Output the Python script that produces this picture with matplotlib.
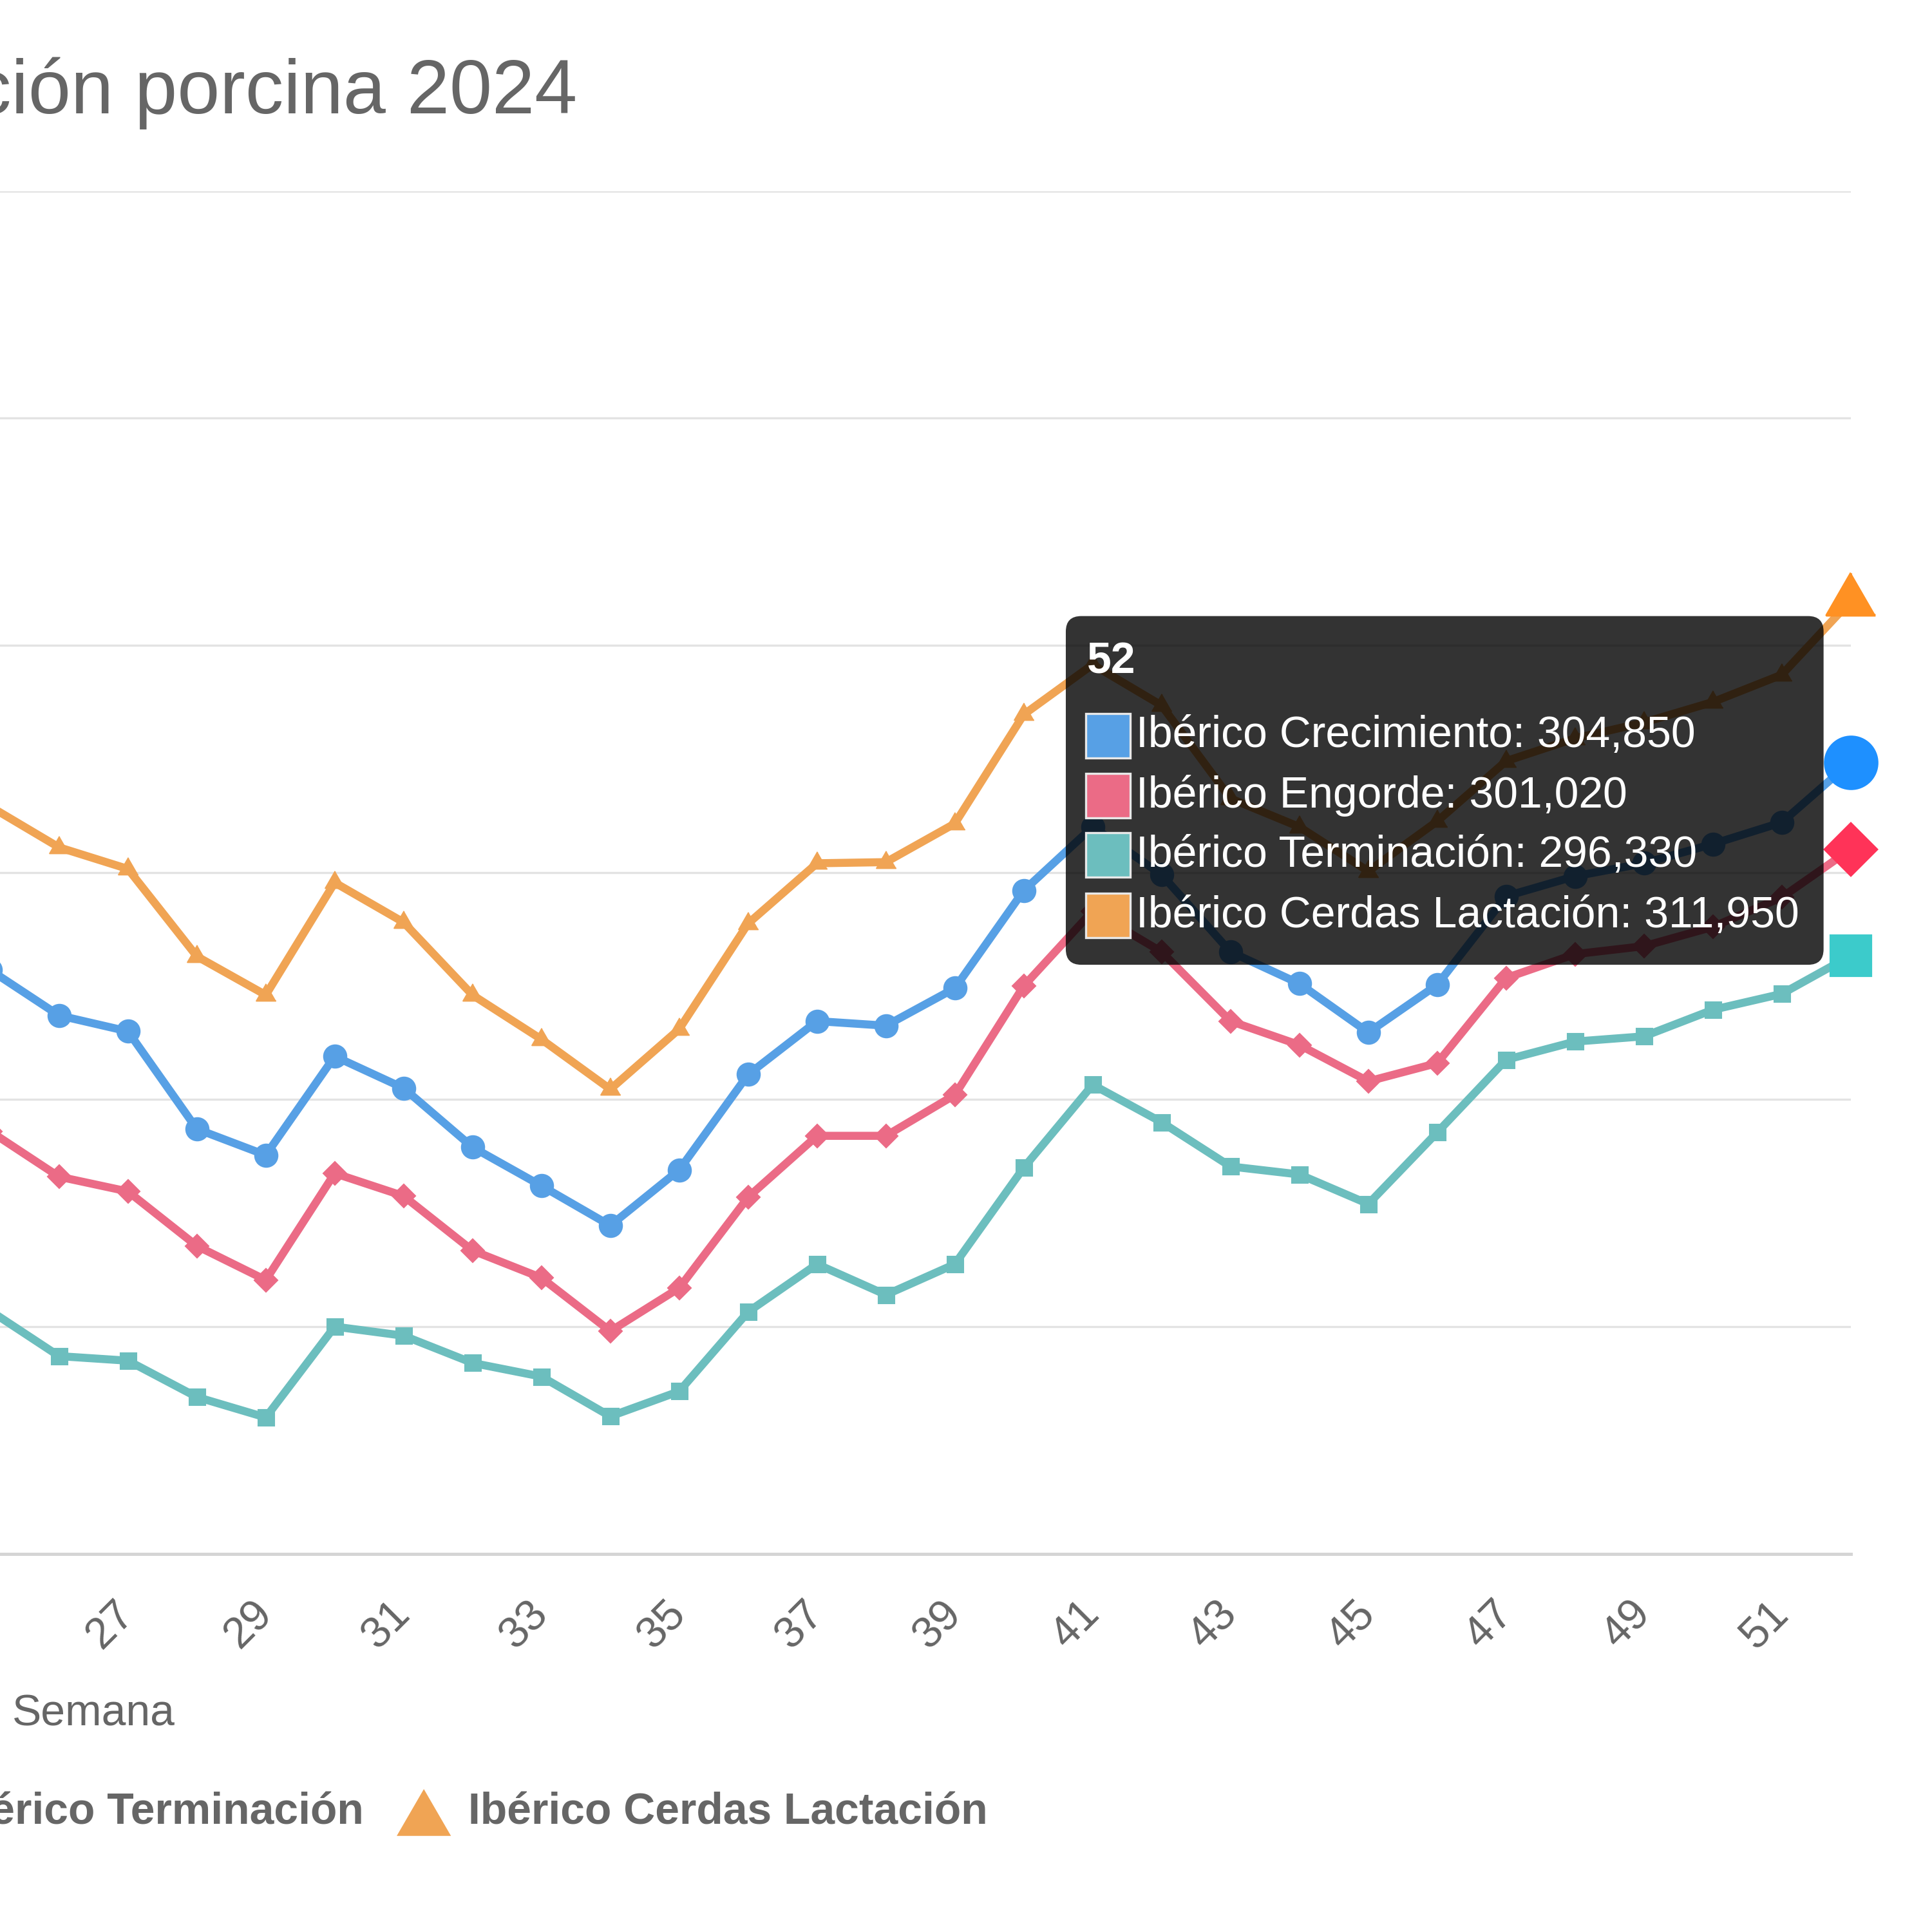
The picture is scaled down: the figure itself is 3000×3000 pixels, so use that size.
import matplotlib
matplotlib.use('Agg')
from matplotlib import pyplot as plt
from matplotlib.patches import FancyBboxPatch, Rectangle, Polygon

plt.rcParams['font.family'] = ['Liberation Sans', 'DejaVu Sans']

# weekly values (week 25 is only partly in view on the left)
weeks = list(range(25, 53))
crecimiento = [295700, 293700, 293000, 288700, 287550, 291900, 290500, 287900, 286200, 284450,
               286900, 291100, 293450, 293250, 294900, 299200, 302000, 299900, 296500, 295100,
               292950, 295050, 298950, 299830, 300400, 301250, 302200, 304850]
engorde = [288600, 286600, 285950, 283550, 282050, 286750, 285750, 283350, 282150, 279800,
           281700, 285700, 288400, 288400, 290200, 295000, 298300, 296500, 293450, 292400,
           290800, 291600, 295350, 296400, 296750, 297600, 298900, 301020]
terminacion = [280700, 278700, 278500, 276900, 276000, 280000, 279600, 278400, 277800, 276050,
               277150, 280650, 282750, 281400, 282750, 287000, 290650, 289000, 287050, 286700,
               285400, 288550, 291750, 292550, 292780, 293950, 294650, 296330]
lactacion = [302900, 301100, 300150, 296300, 294600, 299550, 297800, 294600, 292650, 290450,
             293100, 297750, 300400, 300450, 302150, 306950, 309150, 307350, 303250, 302000,
             300050, 302250, 304900, 305900, 306600, 307500, 308700, 311950]

series_names = ['Ibérico Crecimiento', 'Ibérico Engorde', 'Ibérico Terminación',
                'Ibérico Cerdas Lactación']
tick_weeks = list(range(27, 52, 2))
y_grid = list(range(270000, 330001, 10000))

# styles
line_colors = ['#57a0e5', '#eb6b86', '#6cbebe', '#f0a454']
hover_colors = ['#1e90ff', '#ff3358', '#3ccbcb', '#ff9123']
tri = [(0, 1), (-0.866, -0.5), (0.866, -0.5)]
markers = ['o', 'D', 's', tri]
marker_sizes = [8.5, 6, 6, 8.5]
hover_sizes = [19.3, 13.6, 14.7, 21]
GREY = '#666666'
FS = 16.3


def draw_lines(ax):
    all_series = [crecimiento, engorde, terminacion, lactacion]
    for vals, col, m, ms in zip(all_series, line_colors, markers, marker_sizes):
        ax.plot(weeks, vals, color=col, lw=3.0, marker=m, ms=ms, mfc=col, mec=col,
                mew=0.5, clip_on=False, zorder=3, solid_joinstyle='round')
    # hovered point (week 52)
    for vals, col, m, ms in zip(all_series, hover_colors, markers, hover_sizes):
        ax.plot([weeks[-1]], [vals[-1]], ls='none', marker=m, ms=ms, mfc=col, mec=col,
                clip_on=False, zorder=5)


def draw_tooltip(fig):
    all_series = [crecimiento, engorde, terminacion, lactacion]
    x0, x1 = 865 / 1568, 1480 / 1568
    y0, y1 = 1 - 783 / 1568, 1 - 500 / 1568
    box = FancyBboxPatch((x0, y0), x1 - x0, y1 - y0, boxstyle='round,pad=0,rounding_size=0.008',
                         transform=fig.transFigure, facecolor='black', alpha=0.8,
                         edgecolor='none', zorder=10)
    fig.add_artist(box)
    fig.text(882 / 1568, 1 - 537 / 1568, str(weeks[-1]), color='white', fontsize=FS,
             fontweight='bold', va='center', ha='left', zorder=11)
    row_y = [597, 646, 694, 743]
    for name, vals, col, ry in zip(series_names, all_series, line_colors, row_y):
        yc = 1 - ry / 1568
        sq = Rectangle((881 / 1568, yc - 0.0115), 0.023, 0.023, transform=fig.transFigure,
                       facecolor=col, edgecolor='#e8e8e8', lw=0.8, zorder=11)
        fig.add_artist(sq)
        fig.text(922 / 1568, yc, f'{name}: {vals[-1]:,}', color='white', fontsize=FS,
                 va='center', ha='left', zorder=11)


def draw_legend(fig):
    yc = 1 - 1471 / 1568
    fig.text(295 / 1568, yc, series_names[2], color=GREY, fontsize=FS, fontweight='bold',
             ha='right', va='center')
    cx = 344 / 1568
    w = 44 / 1568
    h = 38 / 1568
    tri_patch = Polygon([(cx - w / 2, yc - h / 2), (cx + w / 2, yc - h / 2), (cx, yc + h / 2)],
                        closed=True, transform=fig.transFigure, facecolor=line_colors[3],
                        edgecolor='none')
    fig.add_artist(tri_patch)
    fig.text(380 / 1568, yc, series_names[3], color=GREY, fontsize=FS, fontweight='bold',
             ha='left', va='center')


def main():
    fig = plt.figure(figsize=(10, 10), dpi=300)
    ax = fig.add_axes([0, 1 - 1261 / 1568, 1502 / 1568, (1261 - 155) / 1568])
    ax.set_xlim(25 + 8 / 55.9, 52)
    ax.set_ylim(y_grid[0], y_grid[-1])

    draw_lines(ax)

    ax.set_yticks(y_grid)
    ax.set_yticklabels([])
    ax.grid(axis='y', color='#e3e3e3', lw=0.8)
    ax.set_axisbelow(True)
    ax.tick_params(axis='y', length=0)
    ax.set_xticks(tick_weeks)
    ax.set_xticklabels([str(w) for w in tick_weeks], rotation=45, ha='right',
                       rotation_mode='anchor', va='center', color=GREY, fontsize=FS)
    ax.tick_params(axis='x', length=0, pad=20)
    for side in ['top', 'left', 'right']:
        ax.spines[side].set_visible(False)
    ax.spines['bottom'].set_color('#d5d5d5')
    ax.spines['bottom'].set_linewidth(1.2)

    # title is cut on the left in the reference
    fig.text(-22 / 1568, 1 - 92 / 1568, 'ción porcina 2024', color=GREY, fontsize=28.5,
             ha='left', va='baseline')
    fig.text(10 / 1568, 1 - 1391 / 1568, 'Semana', color=GREY, fontsize=FS,
             ha='left', va='center')

    draw_tooltip(fig)
    draw_legend(fig)
    fig.savefig('out.png', dpi=300)


if __name__ == '__main__':
    main()
